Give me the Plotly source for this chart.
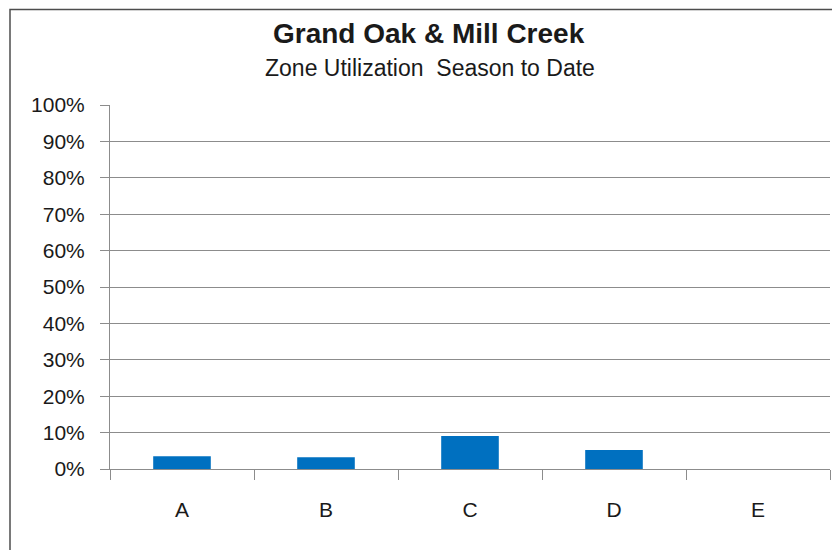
import plotly.graph_objects as go

zones = ["A", "B", "C", "D", "E"]
utilization = [0.035, 0.032, 0.091, 0.052, 0.0]
y_ticks = [i / 10 for i in range(11)]
y_tick_labels = [f"{i * 10}%" for i in range(11)]

fig = go.Figure()
fig.add_trace(go.Bar(x=zones, y=utilization, marker=dict(color="#0070C0", line=dict(width=0))))

OFF = 8  # page body margin
W, H = 840 - OFF, 550 - OFF
# target pixel positions (in the screenshot)
PL, PR, PT, PB = 110, 830, 105, 469
ml, mr, mt, mb = PL - OFF, W - (PR - OFF), PT - OFF, H - (PB - OFF)
pw, ph = W - ml - mr, H - mt - mb

def px_x(x):
    return (x - PL) / pw

def px_y(y):
    return 1 - (y - PT) / ph

fig.update_layout(
    width=W, height=H,
    margin=dict(l=ml, r=mr, t=mt, b=mb, pad=0),
    paper_bgcolor="white", plot_bgcolor="white",
    bargap=0.6,
    showlegend=False,
    font=dict(family="Liberation Sans", color="#1a1a1a"),
    xaxis=dict(
        showline=True, linecolor="#8c8c8c", linewidth=1,
        ticks="outside", tickson="boundaries", ticklen=10, tickcolor="#8c8c8c",
        showgrid=False, tickfont=dict(size=21), ticklabelstandoff=22,
    ),
    yaxis=dict(
        range=[0, 1], tickvals=y_ticks, ticktext=y_tick_labels,
        showline=True, linecolor="#8c8c8c", linewidth=1,
        ticks="outside", ticklen=9, tickcolor="#8c8c8c",
        showgrid=True, gridcolor="#8c8c8c", gridwidth=1, zeroline=False,
        tickfont=dict(size=21), ticklabelstandoff=11,
    ),
    annotations=[
        dict(text="<b>Grand Oak & Mill Creek</b>", xref="paper", yref="paper",
             x=px_x(429), y=px_y(33), xanchor="center", yanchor="middle",
             showarrow=False, font=dict(size=28)),
        dict(text="Zone Utilization  Season to Date", xref="paper", yref="paper",
             x=px_x(430), y=px_y(68), xanchor="center", yanchor="middle",
             showarrow=False, font=dict(size=23)),
    ],
    shapes=[
        dict(type="rect", xref="paper", yref="paper",
             x0=px_x(10), x1=px_x(870), y0=px_y(580), y1=px_y(9.5),
             line=dict(color="#4d4d4d", width=1.5), fillcolor="rgba(0,0,0,0)", layer="above"),
    ],
)

fig.write_html("out.html")
